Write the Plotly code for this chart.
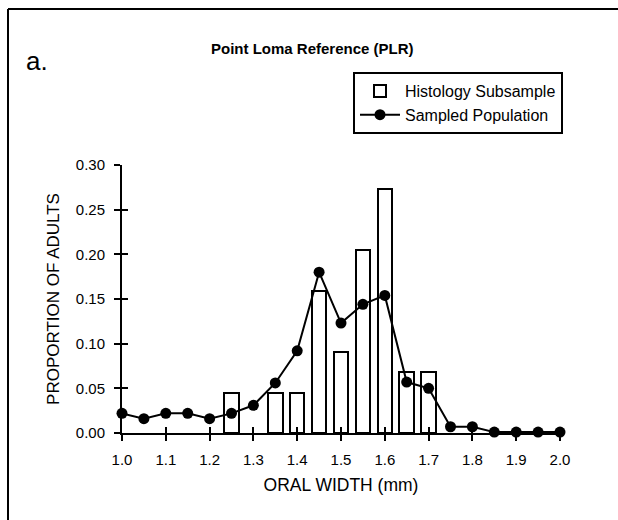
import plotly.graph_objects as go

# ---- data ----
bar_x = [1.25, 1.35, 1.40, 1.45, 1.50, 1.55, 1.60, 1.65, 1.70]
histology_subsample = [0.045, 0.045, 0.045, 0.159, 0.091, 0.205, 0.273, 0.068, 0.068]

line_x = [1.00, 1.05, 1.10, 1.15, 1.20, 1.25, 1.30, 1.35, 1.40, 1.45, 1.50,
          1.55, 1.60, 1.65, 1.70, 1.75, 1.80, 1.85, 1.90, 1.95, 2.00]
sampled_population = [0.022, 0.016, 0.022, 0.022, 0.016, 0.022, 0.031, 0.056, 0.092, 0.180, 0.123,
                      0.144, 0.154, 0.057, 0.050, 0.007, 0.007, 0.001, 0.001, 0.001, 0.001]

x_ticks = [1.0, 1.1, 1.2, 1.3, 1.4, 1.5, 1.6, 1.7, 1.8, 1.9, 2.0]
x_ticklabels = ["1.0", "1.1", "1.2", "1.3", "1.4", "1.5", "1.6", "1.7", "1.8", "1.9", "2.0"]
y_ticks = [0.00, 0.05, 0.10, 0.15, 0.20, 0.25, 0.30]
y_ticklabels = ["0.00", "0.05", "0.10", "0.15", "0.20", "0.25", "0.30"]

FONT = "Liberation Sans, Arial, sans-serif"

fig = go.Figure()
fig.add_trace(go.Bar(
    x=bar_x, y=histology_subsample, width=0.033,
    name="Histology Subsample",
    marker=dict(color="white", line=dict(color="black", width=2)),
))
fig.add_trace(go.Scatter(
    x=line_x, y=sampled_population, mode="lines+markers",
    name="Sampled Population",
    line=dict(color="black", width=2),
    marker=dict(color="black", size=11),
    cliponaxis=False,
))
# invisible trace to create overlay axes for the inner half of crossing ticks
fig.add_trace(go.Scatter(x=[None], y=[None], xaxis="x2", yaxis="y2",
                         showlegend=False, hoverinfo="skip"))

W, H = 618, 520
L, R, T, B = 122, 58, 165, 87
pw, ph = W - L - R, H - T - B

def px(x):
    return (x - L) / pw

def py(y):
    return (H - B - y) / ph

axis_common = dict(showgrid=False, zeroline=False)
fig.update_layout(
    width=W, height=H,
    margin=dict(l=L, r=R, t=T, b=B, pad=0),
    paper_bgcolor="white", plot_bgcolor="white",
    font=dict(family=FONT, color="black", size=15),
    bargap=0,
    xaxis=dict(range=[1.0, 2.0], tickvals=x_ticks, ticktext=x_ticklabels,
               ticks="outside", ticklen=6, tickwidth=2, tickcolor="black",
               showline=True, linecolor="black", linewidth=2,
               ticklabelstandoff=6,
               tickfont=dict(size=15),
               title=dict(text="ORAL WIDTH (mm)", font=dict(size=17.5), standoff=12),
               **axis_common),
    yaxis=dict(range=[0, 0.30], tickvals=y_ticks, ticktext=y_ticklabels,
               ticks="outside", ticklen=6, tickwidth=2, tickcolor="black",
               showline=True, linecolor="black", linewidth=2,
               ticklabelstandoff=6,
               tickfont=dict(size=15),
               title=dict(text="PROPORTION OF ADULTS", font=dict(size=17), standoff=12),
               **axis_common),
    xaxis2=dict(range=[1.0, 2.0], tickvals=x_ticks, overlaying="x", anchor="y2",
                ticks="inside", ticklen=6, tickwidth=2, tickcolor="black",
                showticklabels=False, showline=False, **axis_common),
    yaxis2=dict(range=[0, 0.30], tickvals=y_ticks, overlaying="y", anchor="x2", side="left",
                ticks="inside", ticklen=6, tickwidth=2, tickcolor="black",
                showticklabels=False, showline=False, **axis_common),
    legend=dict(x=px(353), y=py(72), xanchor="left", yanchor="top",
                bordercolor="black", borderwidth=2, bgcolor="white",
                font=dict(size=16), tracegroupgap=0, itemwidth=40),
    showlegend=True,
    annotations=[
        dict(text="<b>Point Loma Reference (PLR)</b>", x=px(312), y=py(48),
             xref="paper", yref="paper", showarrow=False,
             xanchor="center", yanchor="middle", font=dict(size=15)),
        dict(text="a.", x=px(24), y=py(61), xref="paper", yref="paper",
             showarrow=False, xanchor="left", yanchor="middle", font=dict(size=26)),
    ],
    shapes=[
        dict(type="line", xref="paper", yref="paper", x0=px(8), x1=px(640),
             y0=py(9), y1=py(9), line=dict(color="black", width=2)),
        dict(type="line", xref="paper", yref="paper", x0=px(8), x1=px(8),
             y0=py(9), y1=py(540), line=dict(color="black", width=2)),
    ],
)

fig.write_html("out.html")
